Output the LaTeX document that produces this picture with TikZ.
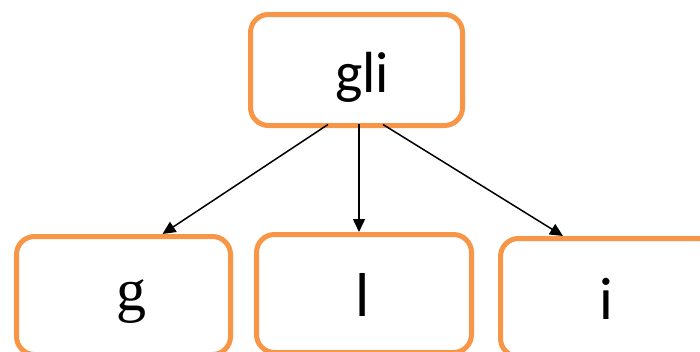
\documentclass[tikz,border=0pt]{standalone}
\usepackage{fontspec}
\setmainfont{Carlito}
\newfontfamily\serifword{Liberation Serif}
\usetikzlibrary{arrows.meta,calc}
\definecolor{boxorange}{HTML}{F79646}
\begin{document}
\begin{tikzpicture}[x=1pt,y=-1pt,
    box/.style={draw=boxorange,line width=5pt,rounded corners=18pt,
    minimum height=111pt,inner sep=0pt},
    lowbox/.style={box,minimum height=118pt},
    word/.style={anchor=base,inner sep=0pt,font=\fontsize{58}{60}\selectfont},
    link/.style={line width=1.5pt,-{Triangle[length=13pt,width=12pt]}}]
    \useasboundingbox (0,0) rectangle (700,351);
    % boxes
    \node[box,minimum width=212pt] (gli) at (356.5,70) {};
    \node[lowbox,minimum width=214pt] (g) at (123.5,295.5) {};
    \node[lowbox,minimum width=215pt] (l) at (364,293.5) {};
    \node[lowbox,minimum width=215pt] (i) at (608,297.5) {};
    % words
    \node[word] (gliword) at (362,92) {gli};
    \node[word,font=\fontsize{60}{62}\serifword] (gword) at (131,310) {g};
    \node[word,font=\fontsize{62}{64}\selectfont] (lword) at (363,316) {l};
    \node[word,font=\fontsize{60}{62}\selectfont] (iword) at (606,319) {i};
    % arrows
    \draw[link] ($(gli.south)+(-28.5,-3.5)$) -- ($(g.north)+(39,0)$);
    \draw[link] ($(gli.south)+(2.5,-4)$) -- ($(l.north)+(-5,0)$);
    \draw[link] ($(gli.south)+(26.5,-3.5)$) -- ($(i.north)+(-45,0)$);
\end{tikzpicture}
\end{document}
